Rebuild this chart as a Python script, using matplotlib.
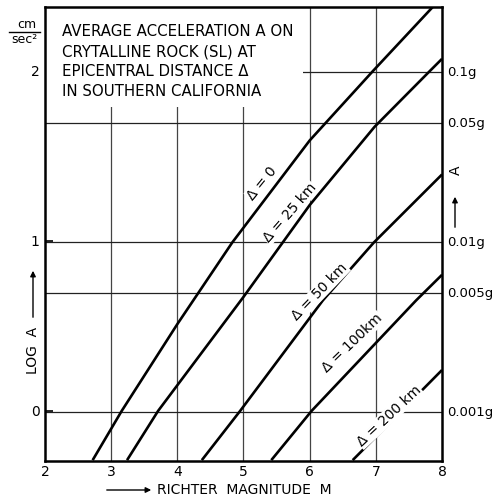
import numpy as np
import matplotlib.pyplot as plt
from matplotlib.patches import Rectangle

# curves: magnitude M vs log A (cm/sec^2)
m_0 = [2.72, 3.16, 4.0, 4.83, 6.0, 6.96, 7.86]
a_0 = [-0.29, 0.0, 0.51, 0.99, 1.59, 2.0, 2.375]
m_25 = [3.24, 3.71, 5.0, 6.0, 6.98, 7.82, 8.0]
a_25 = [-0.29, 0.0, 0.67, 1.21, 1.67, 2.0, 2.07]
m_50 = [4.37, 4.95, 6.2, 6.97, 8.0]
a_50 = [-0.29, 0.0, 0.65, 0.99, 1.39]
m_100 = [5.42, 6.03, 7.61, 8.0]
a_100 = [-0.29, 0.0, 0.65, 0.80]
m_200 = [6.65, 7.39, 8.0]
a_200 = [-0.29, 0.0, 0.24]

curve_labels = ["\u0394 = 0", "\u0394 = 25 km", "\u0394 = 50 km", "\u0394 = 100km", "\u0394 = 200 km"]
label_pos = [(5.28, 1.34), (5.70, 1.165), (6.15, 0.70), (6.65, 0.40), (7.2, -0.03)]
label_rot = [51, 49, 46, 44, 43]

g_fracs = [0.001, 0.005, 0.01, 0.05, 0.1]
g_labels = ["0.001g", "0.005g", "0.01g", "0.05g", "0.1g"]
x_ticks = [2, 3, 4, 5, 6, 7, 8]
y_ticks = [0, 1, 2]
title_lines = ["AVERAGE ACCELERATION A ON",
               "CRYTALLINE ROCK (SL) AT",
               "EPICENTRAL DISTANCE \u0394",
               "IN SOUTHERN CALIFORNIA"]

W, H = 497, 501


def fx(px):
    return px / W


def fy(py):
    return 1 - py / H


fig = plt.figure(figsize=(W / 100, H / 100), dpi=100)
ax = fig.add_axes([fx(45), fy(461), fx(442) - fx(45), fy(7) - fy(461)])
ax.set_xlim(2, 8)
ax.set_ylim(-0.295, 2.375)

# grid
for x in x_ticks[1:-1]:
    ax.axvline(x, color="#444444", lw=0.9, zorder=1)
g_logs = np.log10(np.array(g_fracs) * 981)
for y in g_logs:
    ax.axhline(y, color="#222222", lw=0.9, zorder=1)

# white block behind the caption
ax.add_patch(Rectangle((0, 0.78), 0.65, 0.25, transform=ax.transAxes,
                       facecolor="white", edgecolor="none", zorder=2))
for i, line in enumerate(title_lines):
    fig.text(fx(62), fy(32 + 20 * i), line, fontsize=10.8, va="center", ha="left")

for m, a in [(m_0, a_0), (m_25, a_25), (m_50, a_50), (m_100, a_100), (m_200, a_200)]:
    ax.plot(m, a, color="black", lw=1.9, zorder=3, solid_capstyle="butt",
            solid_joinstyle="round")

for lab, (x, y), rot in zip(curve_labels, label_pos, label_rot):
    ax.text(x, y, lab, rotation=rot, rotation_mode="anchor", ha="center", va="center",
            fontsize=10, zorder=4,
            bbox=dict(facecolor="white", edgecolor="none", pad=0.5))

for sp in ax.spines.values():
    sp.set_linewidth(1.8)

ax.set_xticks(x_ticks)
ax.set_yticks(y_ticks)
ax.tick_params(direction="in", length=6, width=1.2, labelsize=10, pad=4)
ax.tick_params(axis="x", length=0, pad=3)

for y, lab in zip(g_logs, g_labels):
    ax.text(1.012, y, lab, transform=ax.get_yaxis_transform(), fontsize=9.5,
            ha="left", va="center")

# units
fig.text(fx(27), fy(25), "cm", fontsize=9, ha="center", va="center")
fig.add_artist(plt.Line2D([fx(9), fx(40)], [fy(31.5), fy(31.5)], color="black", lw=1))
fig.text(fx(24), fy(39), "sec\u00b2", fontsize=9, ha="center", va="center")

# axis titles with arrows
fig.text(fx(33), fy(350), "LOG  A", rotation=90, fontsize=10, ha="center", va="center")
ax.annotate("", xy=(fx(33), fy(268)), xytext=(fx(33), fy(320)), xycoords="figure fraction",
            textcoords="figure fraction",
            arrowprops=dict(arrowstyle="-|>", color="black", lw=1, mutation_scale=8))
fig.text(fx(456), fy(170), "A", rotation=90, fontsize=10, ha="center", va="center")
ax.annotate("", xy=(fx(455), fy(194)), xytext=(fx(455), fy(230)), xycoords="figure fraction",
            textcoords="figure fraction",
            arrowprops=dict(arrowstyle="-|>", color="black", lw=1, mutation_scale=8))
fig.text(fx(157), fy(490), "RICHTER  MAGNITUDE  M", fontsize=10, ha="left", va="center")
ax.annotate("", xy=(fx(154), fy(490)), xytext=(fx(104), fy(490)), xycoords="figure fraction",
            textcoords="figure fraction",
            arrowprops=dict(arrowstyle="-|>", color="black", lw=1, mutation_scale=8))

fig.savefig("out.png", dpi=100)
